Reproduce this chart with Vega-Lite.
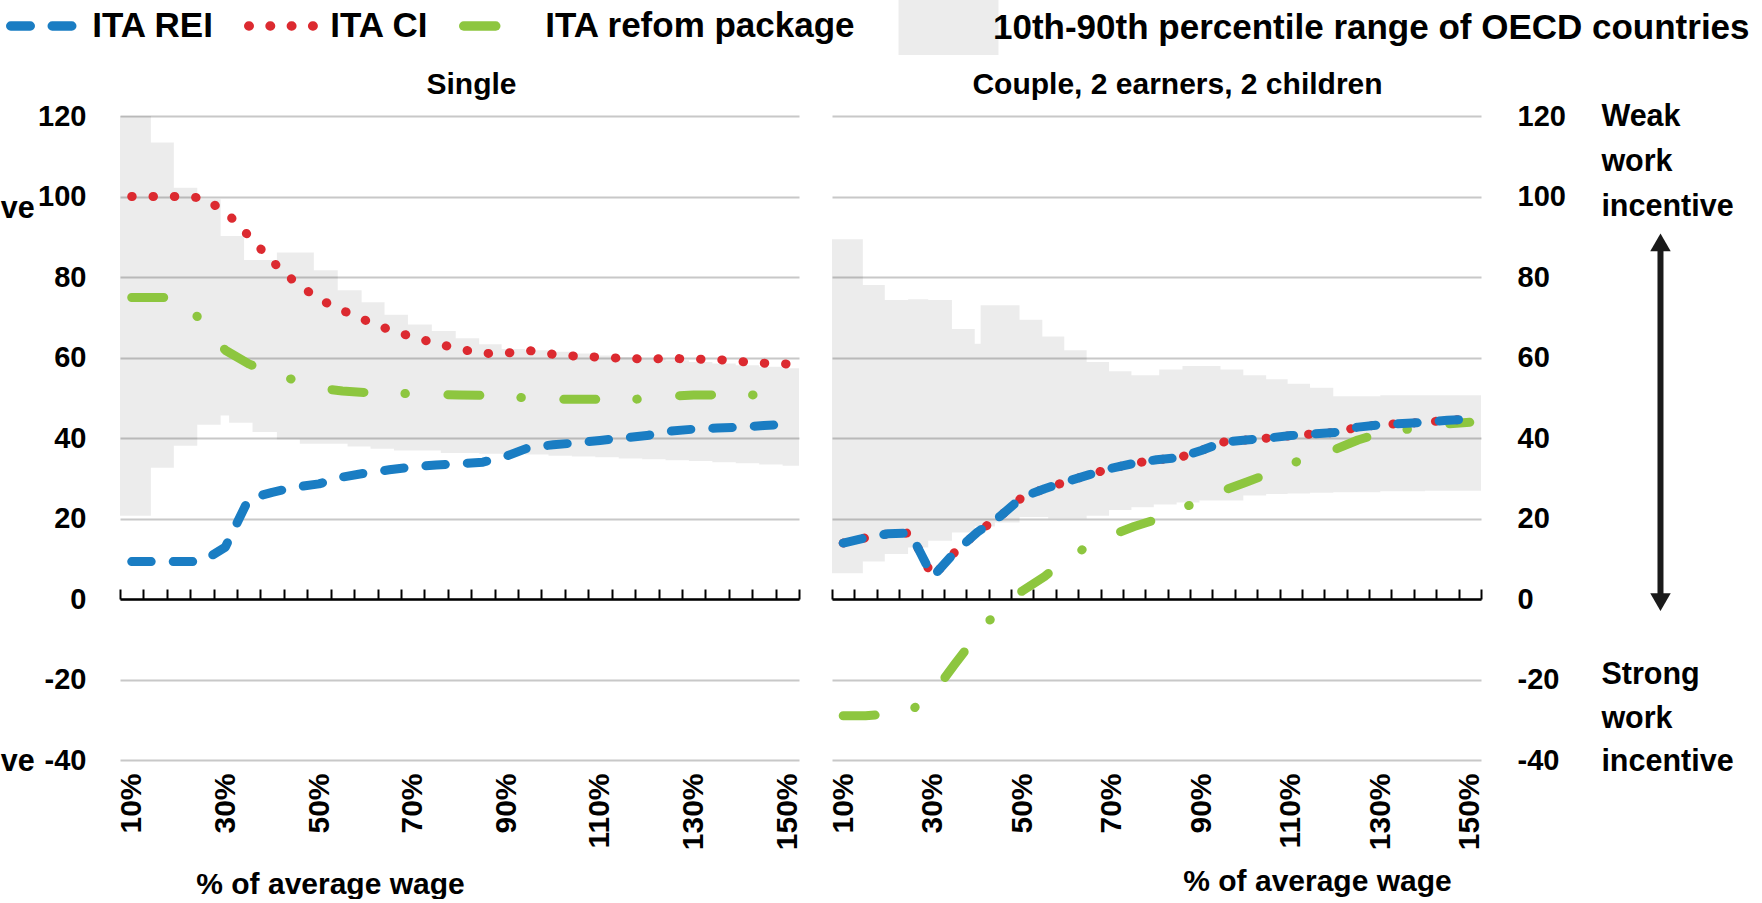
{
  "$schema": "https://vega.github.io/schema/vega-lite/v6.json",
  "background": "white",
  "padding": {"left": 0, "top": 0, "right": 0, "bottom": 0},
  "spacing": 25,
  "config": {
    "font": "Liberation Sans",
    "view": {"stroke": null},
    "axis": {"labelFontWeight": "bold", "titleFontWeight": "bold", "labelColor": "#000000", "titleColor": "#000000"},
    "legend": {"labelFontWeight": "bold", "labelColor": "#000000"},
    "title": {"fontWeight": "bold", "fontSize": 30, "color": "#000000", "baseline": "alphabetic", "offset": 2, "frame": "group"},
    "text": {"fontWeight": "bold"}
  },
  "datasets": {
    "lines": [
      {"panel": "Single", "series": "ITA refom package", "pct": 10, "value": 74.9},
      {"panel": "Single", "series": "ITA refom package", "pct": 15, "value": 74.9},
      {"panel": "Single", "series": "ITA refom package", "pct": 20, "value": 74.9},
      {"panel": "Single", "series": "ITA refom package", "pct": 25, "value": 69.0},
      {"panel": "Single", "series": "ITA refom package", "pct": 30, "value": 61.8},
      {"panel": "Single", "series": "ITA refom package", "pct": 35, "value": 58.4},
      {"panel": "Single", "series": "ITA refom package", "pct": 40, "value": 56.1},
      {"panel": "Single", "series": "ITA refom package", "pct": 45, "value": 54.3},
      {"panel": "Single", "series": "ITA refom package", "pct": 50, "value": 52.4},
      {"panel": "Single", "series": "ITA refom package", "pct": 55, "value": 51.7},
      {"panel": "Single", "series": "ITA refom package", "pct": 60, "value": 51.3},
      {"panel": "Single", "series": "ITA refom package", "pct": 65, "value": 51.1},
      {"panel": "Single", "series": "ITA refom package", "pct": 70, "value": 51.0},
      {"panel": "Single", "series": "ITA refom package", "pct": 75, "value": 50.8},
      {"panel": "Single", "series": "ITA refom package", "pct": 80, "value": 50.7},
      {"panel": "Single", "series": "ITA refom package", "pct": 85, "value": 50.6},
      {"panel": "Single", "series": "ITA refom package", "pct": 90, "value": 50.3},
      {"panel": "Single", "series": "ITA refom package", "pct": 95, "value": 49.9},
      {"panel": "Single", "series": "ITA refom package", "pct": 100, "value": 49.6},
      {"panel": "Single", "series": "ITA refom package", "pct": 105, "value": 49.6},
      {"panel": "Single", "series": "ITA refom package", "pct": 110, "value": 49.6},
      {"panel": "Single", "series": "ITA refom package", "pct": 115, "value": 49.6},
      {"panel": "Single", "series": "ITA refom package", "pct": 120, "value": 49.7},
      {"panel": "Single", "series": "ITA refom package", "pct": 125, "value": 50.4},
      {"panel": "Single", "series": "ITA refom package", "pct": 130, "value": 50.7},
      {"panel": "Single", "series": "ITA refom package", "pct": 135, "value": 50.7},
      {"panel": "Single", "series": "ITA refom package", "pct": 140, "value": 50.7},
      {"panel": "Single", "series": "ITA refom package", "pct": 145, "value": 50.7},
      {"panel": "Single", "series": "ITA refom package", "pct": 150, "value": 50.7},
      {"panel": "Couple", "series": "ITA refom package", "pct": 10, "value": -29.0},
      {"panel": "Couple", "series": "ITA refom package", "pct": 15, "value": -29.0},
      {"panel": "Couple", "series": "ITA refom package", "pct": 20, "value": -28.6},
      {"panel": "Couple", "series": "ITA refom package", "pct": 25, "value": -27.8},
      {"panel": "Couple", "series": "ITA refom package", "pct": 30, "value": -23.6},
      {"panel": "Couple", "series": "ITA refom package", "pct": 35, "value": -16.1},
      {"panel": "Couple", "series": "ITA refom package", "pct": 40, "value": -8.8},
      {"panel": "Couple", "series": "ITA refom package", "pct": 45, "value": -2.4},
      {"panel": "Couple", "series": "ITA refom package", "pct": 50, "value": 2.0},
      {"panel": "Couple", "series": "ITA refom package", "pct": 55, "value": 5.6},
      {"panel": "Couple", "series": "ITA refom package", "pct": 60, "value": 10.0},
      {"panel": "Couple", "series": "ITA refom package", "pct": 65, "value": 13.3},
      {"panel": "Couple", "series": "ITA refom package", "pct": 70, "value": 15.9},
      {"panel": "Couple", "series": "ITA refom package", "pct": 75, "value": 18.0},
      {"panel": "Couple", "series": "ITA refom package", "pct": 80, "value": 19.8},
      {"panel": "Couple", "series": "ITA refom package", "pct": 85, "value": 22.2},
      {"panel": "Couple", "series": "ITA refom package", "pct": 90, "value": 24.5},
      {"panel": "Couple", "series": "ITA refom package", "pct": 95, "value": 27.0},
      {"panel": "Couple", "series": "ITA refom package", "pct": 100, "value": 29.0},
      {"panel": "Couple", "series": "ITA refom package", "pct": 105, "value": 31.1},
      {"panel": "Couple", "series": "ITA refom package", "pct": 110, "value": 33.6},
      {"panel": "Couple", "series": "ITA refom package", "pct": 115, "value": 35.5},
      {"panel": "Couple", "series": "ITA refom package", "pct": 120, "value": 37.2},
      {"panel": "Couple", "series": "ITA refom package", "pct": 125, "value": 39.5},
      {"panel": "Couple", "series": "ITA refom package", "pct": 130, "value": 41.2},
      {"panel": "Couple", "series": "ITA refom package", "pct": 135, "value": 42.0},
      {"panel": "Couple", "series": "ITA refom package", "pct": 140, "value": 42.8},
      {"panel": "Couple", "series": "ITA refom package", "pct": 145, "value": 43.5},
      {"panel": "Couple", "series": "ITA refom package", "pct": 150, "value": 43.9},
      {"panel": "Single", "series": "ITA CI", "pct": 10, "value": 100},
      {"panel": "Single", "series": "ITA CI", "pct": 15, "value": 100},
      {"panel": "Single", "series": "ITA CI", "pct": 20, "value": 100},
      {"panel": "Single", "series": "ITA CI", "pct": 25, "value": 99.7},
      {"panel": "Single", "series": "ITA CI", "pct": 30, "value": 96.3},
      {"panel": "Single", "series": "ITA CI", "pct": 35, "value": 90.2},
      {"panel": "Single", "series": "ITA CI", "pct": 40, "value": 83.9},
      {"panel": "Single", "series": "ITA CI", "pct": 45, "value": 78.6},
      {"panel": "Single", "series": "ITA CI", "pct": 50, "value": 74.5},
      {"panel": "Single", "series": "ITA CI", "pct": 55, "value": 71.7},
      {"panel": "Single", "series": "ITA CI", "pct": 60, "value": 69.2},
      {"panel": "Single", "series": "ITA CI", "pct": 65, "value": 66.9},
      {"panel": "Single", "series": "ITA CI", "pct": 70, "value": 65.1},
      {"panel": "Single", "series": "ITA CI", "pct": 75, "value": 63.5},
      {"panel": "Single", "series": "ITA CI", "pct": 80, "value": 62.1},
      {"panel": "Single", "series": "ITA CI", "pct": 85, "value": 61.0},
      {"panel": "Single", "series": "ITA CI", "pct": 90, "value": 61.1},
      {"panel": "Single", "series": "ITA CI", "pct": 95, "value": 61.7},
      {"panel": "Single", "series": "ITA CI", "pct": 100, "value": 60.8},
      {"panel": "Single", "series": "ITA CI", "pct": 105, "value": 60.3},
      {"panel": "Single", "series": "ITA CI", "pct": 110, "value": 60.1},
      {"panel": "Single", "series": "ITA CI", "pct": 115, "value": 59.8},
      {"panel": "Single", "series": "ITA CI", "pct": 120, "value": 59.6},
      {"panel": "Single", "series": "ITA CI", "pct": 125, "value": 59.8},
      {"panel": "Single", "series": "ITA CI", "pct": 130, "value": 59.6},
      {"panel": "Single", "series": "ITA CI", "pct": 135, "value": 59.5},
      {"panel": "Single", "series": "ITA CI", "pct": 140, "value": 59.0},
      {"panel": "Single", "series": "ITA CI", "pct": 145, "value": 58.6},
      {"panel": "Single", "series": "ITA CI", "pct": 150, "value": 58.4},
      {"panel": "Couple", "series": "ITA CI", "pct": 10, "value": 13.9},
      {"panel": "Couple", "series": "ITA CI", "pct": 15, "value": 15.2},
      {"panel": "Couple", "series": "ITA CI", "pct": 20, "value": 16.2},
      {"panel": "Couple", "series": "ITA CI", "pct": 25, "value": 16.4},
      {"panel": "Couple", "series": "ITA CI", "pct": 30, "value": 5.5},
      {"panel": "Couple", "series": "ITA CI", "pct": 35, "value": 11.7},
      {"panel": "Couple", "series": "ITA CI", "pct": 40, "value": 16.6},
      {"panel": "Couple", "series": "ITA CI", "pct": 45, "value": 20.5},
      {"panel": "Couple", "series": "ITA CI", "pct": 50, "value": 25.3},
      {"panel": "Couple", "series": "ITA CI", "pct": 55, "value": 27.4},
      {"panel": "Couple", "series": "ITA CI", "pct": 60, "value": 29.2},
      {"panel": "Couple", "series": "ITA CI", "pct": 65, "value": 30.9},
      {"panel": "Couple", "series": "ITA CI", "pct": 70, "value": 32.5},
      {"panel": "Couple", "series": "ITA CI", "pct": 75, "value": 33.7},
      {"panel": "Couple", "series": "ITA CI", "pct": 80, "value": 34.6},
      {"panel": "Couple", "series": "ITA CI", "pct": 85, "value": 35.1},
      {"panel": "Couple", "series": "ITA CI", "pct": 90, "value": 36.9},
      {"panel": "Couple", "series": "ITA CI", "pct": 95, "value": 39.0},
      {"panel": "Couple", "series": "ITA CI", "pct": 100, "value": 39.5},
      {"panel": "Couple", "series": "ITA CI", "pct": 105, "value": 40.0},
      {"panel": "Couple", "series": "ITA CI", "pct": 110, "value": 40.6},
      {"panel": "Couple", "series": "ITA CI", "pct": 115, "value": 41.0},
      {"panel": "Couple", "series": "ITA CI", "pct": 120, "value": 41.4},
      {"panel": "Couple", "series": "ITA CI", "pct": 125, "value": 42.7},
      {"panel": "Couple", "series": "ITA CI", "pct": 130, "value": 43.3},
      {"panel": "Couple", "series": "ITA CI", "pct": 135, "value": 43.6},
      {"panel": "Couple", "series": "ITA CI", "pct": 140, "value": 43.9},
      {"panel": "Couple", "series": "ITA CI", "pct": 145, "value": 44.4},
      {"panel": "Couple", "series": "ITA CI", "pct": 150, "value": 44.7},
      {"panel": "Single", "series": "ITA REI", "pct": 10, "value": 9.3},
      {"panel": "Single", "series": "ITA REI", "pct": 15, "value": 9.3},
      {"panel": "Single", "series": "ITA REI", "pct": 20, "value": 9.3},
      {"panel": "Single", "series": "ITA REI", "pct": 25, "value": 9.3},
      {"panel": "Single", "series": "ITA REI", "pct": 30, "value": 12.9},
      {"panel": "Single", "series": "ITA REI", "pct": 35, "value": 24.9},
      {"panel": "Single", "series": "ITA REI", "pct": 40, "value": 26.5},
      {"panel": "Single", "series": "ITA REI", "pct": 45, "value": 27.8},
      {"panel": "Single", "series": "ITA REI", "pct": 50, "value": 28.6},
      {"panel": "Single", "series": "ITA REI", "pct": 55, "value": 30.3},
      {"panel": "Single", "series": "ITA REI", "pct": 60, "value": 31.3},
      {"panel": "Single", "series": "ITA REI", "pct": 65, "value": 32.1},
      {"panel": "Single", "series": "ITA REI", "pct": 70, "value": 32.8},
      {"panel": "Single", "series": "ITA REI", "pct": 75, "value": 33.3},
      {"panel": "Single", "series": "ITA REI", "pct": 80, "value": 33.6},
      {"panel": "Single", "series": "ITA REI", "pct": 85, "value": 34.0},
      {"panel": "Single", "series": "ITA REI", "pct": 90, "value": 35.5},
      {"panel": "Single", "series": "ITA REI", "pct": 95, "value": 37.7},
      {"panel": "Single", "series": "ITA REI", "pct": 100, "value": 38.3},
      {"panel": "Single", "series": "ITA REI", "pct": 105, "value": 38.8},
      {"panel": "Single", "series": "ITA REI", "pct": 110, "value": 39.4},
      {"panel": "Single", "series": "ITA REI", "pct": 115, "value": 40.0},
      {"panel": "Single", "series": "ITA REI", "pct": 120, "value": 40.6},
      {"panel": "Single", "series": "ITA REI", "pct": 125, "value": 41.7},
      {"panel": "Single", "series": "ITA REI", "pct": 130, "value": 42.2},
      {"panel": "Single", "series": "ITA REI", "pct": 135, "value": 42.5},
      {"panel": "Single", "series": "ITA REI", "pct": 140, "value": 42.7},
      {"panel": "Single", "series": "ITA REI", "pct": 145, "value": 43.1},
      {"panel": "Single", "series": "ITA REI", "pct": 150, "value": 43.4},
      {"panel": "Couple", "series": "ITA REI", "pct": 10, "value": 13.9},
      {"panel": "Couple", "series": "ITA REI", "pct": 15, "value": 15.2},
      {"panel": "Couple", "series": "ITA REI", "pct": 20, "value": 16.2},
      {"panel": "Couple", "series": "ITA REI", "pct": 25, "value": 16.4},
      {"panel": "Couple", "series": "ITA REI", "pct": 30, "value": 5.5},
      {"panel": "Couple", "series": "ITA REI", "pct": 35, "value": 11.7},
      {"panel": "Couple", "series": "ITA REI", "pct": 40, "value": 16.6},
      {"panel": "Couple", "series": "ITA REI", "pct": 45, "value": 20.5},
      {"panel": "Couple", "series": "ITA REI", "pct": 50, "value": 25.3},
      {"panel": "Couple", "series": "ITA REI", "pct": 55, "value": 27.4},
      {"panel": "Couple", "series": "ITA REI", "pct": 60, "value": 29.2},
      {"panel": "Couple", "series": "ITA REI", "pct": 65, "value": 30.9},
      {"panel": "Couple", "series": "ITA REI", "pct": 70, "value": 32.5},
      {"panel": "Couple", "series": "ITA REI", "pct": 75, "value": 33.7},
      {"panel": "Couple", "series": "ITA REI", "pct": 80, "value": 34.6},
      {"panel": "Couple", "series": "ITA REI", "pct": 85, "value": 35.1},
      {"panel": "Couple", "series": "ITA REI", "pct": 90, "value": 36.9},
      {"panel": "Couple", "series": "ITA REI", "pct": 95, "value": 39.0},
      {"panel": "Couple", "series": "ITA REI", "pct": 100, "value": 39.5},
      {"panel": "Couple", "series": "ITA REI", "pct": 105, "value": 40.0},
      {"panel": "Couple", "series": "ITA REI", "pct": 110, "value": 40.6},
      {"panel": "Couple", "series": "ITA REI", "pct": 115, "value": 41.0},
      {"panel": "Couple", "series": "ITA REI", "pct": 120, "value": 41.4},
      {"panel": "Couple", "series": "ITA REI", "pct": 125, "value": 42.7},
      {"panel": "Couple", "series": "ITA REI", "pct": 130, "value": 43.3},
      {"panel": "Couple", "series": "ITA REI", "pct": 135, "value": 43.6},
      {"panel": "Couple", "series": "ITA REI", "pct": 140, "value": 43.9},
      {"panel": "Couple", "series": "ITA REI", "pct": 145, "value": 44.4},
      {"panel": "Couple", "series": "ITA REI", "pct": 150, "value": 44.7}
    ],
    "band": [
      {"panel": "Single", "pct": 7.5, "lo": 20.7, "hi": 120},
      {"panel": "Single", "pct": 14.1, "lo": 32.6, "hi": 113.4},
      {"panel": "Single", "pct": 19.0, "lo": 38.1, "hi": 102.2},
      {"panel": "Single", "pct": 24.0, "lo": 43.3, "hi": 99.3},
      {"panel": "Single", "pct": 29.0, "lo": 45.6, "hi": 90.2},
      {"panel": "Single", "pct": 30.8, "lo": 43.8, "hi": 90.2},
      {"panel": "Single", "pct": 34.0, "lo": 43.8, "hi": 84.2},
      {"panel": "Single", "pct": 35.8, "lo": 41.5, "hi": 84.2},
      {"panel": "Single", "pct": 41.0, "lo": 39.6, "hi": 86.1},
      {"panel": "Single", "pct": 45.9, "lo": 38.6, "hi": 86.1},
      {"panel": "Single", "pct": 48.9, "lo": 38.6, "hi": 81.7},
      {"panel": "Single", "pct": 54.0, "lo": 38.6, "hi": 76.7},
      {"panel": "Single", "pct": 56.1, "lo": 37.9, "hi": 76.7},
      {"panel": "Single", "pct": 59.1, "lo": 37.9, "hi": 73.7},
      {"panel": "Single", "pct": 61.0, "lo": 37.3, "hi": 73.7},
      {"panel": "Single", "pct": 64.0, "lo": 37.3, "hi": 70.6},
      {"panel": "Single", "pct": 66.0, "lo": 36.9, "hi": 70.6},
      {"panel": "Single", "pct": 69.0, "lo": 36.9, "hi": 68.2},
      {"panel": "Single", "pct": 74.1, "lo": 36.9, "hi": 66.6},
      {"panel": "Single", "pct": 76.0, "lo": 36.3, "hi": 66.6},
      {"panel": "Single", "pct": 79.2, "lo": 36.3, "hi": 64.8},
      {"panel": "Single", "pct": 84.2, "lo": 36.1, "hi": 63.3},
      {"panel": "Single", "pct": 89, "lo": 36.0, "hi": 62.1},
      {"panel": "Single", "pct": 94, "lo": 35.9, "hi": 61.8},
      {"panel": "Single", "pct": 99, "lo": 35.6, "hi": 61.4},
      {"panel": "Single", "pct": 104, "lo": 35.4, "hi": 61.0},
      {"panel": "Single", "pct": 109, "lo": 35.2, "hi": 60.5},
      {"panel": "Single", "pct": 114, "lo": 34.9, "hi": 60.1},
      {"panel": "Single", "pct": 119, "lo": 34.7, "hi": 59.7},
      {"panel": "Single", "pct": 124, "lo": 34.5, "hi": 59.3},
      {"panel": "Single", "pct": 129, "lo": 34.3, "hi": 58.9},
      {"panel": "Single", "pct": 134, "lo": 34.0, "hi": 58.5},
      {"panel": "Single", "pct": 139, "lo": 33.7, "hi": 58.1},
      {"panel": "Single", "pct": 144, "lo": 33.4, "hi": 57.7},
      {"panel": "Single", "pct": 149, "lo": 33.1, "hi": 57.3},
      {"panel": "Single", "pct": 152.5, "lo": 32.9, "hi": 57.2},
      {"panel": "Couple", "pct": 7.5, "lo": 6.4, "hi": 89.4},
      {"panel": "Couple", "pct": 14.4, "lo": 9.3, "hi": 78.0},
      {"panel": "Couple", "pct": 19.3, "lo": 11.2, "hi": 74.3},
      {"panel": "Couple", "pct": 24.5, "lo": 12.8, "hi": 74.5},
      {"panel": "Couple", "pct": 29.0, "lo": 14.5, "hi": 74.3},
      {"panel": "Couple", "pct": 34.3, "lo": 16.5, "hi": 67.1},
      {"panel": "Couple", "pct": 39.4, "lo": 18.0, "hi": 63.4},
      {"panel": "Couple", "pct": 40.7, "lo": 18.0, "hi": 73.0},
      {"panel": "Couple", "pct": 43.9, "lo": 19.0, "hi": 73.0},
      {"panel": "Couple", "pct": 49.4, "lo": 20.4, "hi": 69.4},
      {"panel": "Couple", "pct": 54.5, "lo": 20.4, "hi": 65.2},
      {"panel": "Couple", "pct": 55.8, "lo": 20.0, "hi": 65.2},
      {"panel": "Couple", "pct": 59.4, "lo": 20.0, "hi": 61.8},
      {"panel": "Couple", "pct": 64.4, "lo": 20.7, "hi": 58.9},
      {"panel": "Couple", "pct": 69.4, "lo": 22.1, "hi": 56.6},
      {"panel": "Couple", "pct": 74.4, "lo": 22.8, "hi": 55.6},
      {"panel": "Couple", "pct": 79.4, "lo": 23.5, "hi": 55.6},
      {"panel": "Couple", "pct": 80.6, "lo": 23.5, "hi": 57.0},
      {"panel": "Couple", "pct": 84.5, "lo": 24.0, "hi": 57.0},
      {"panel": "Couple", "pct": 85.8, "lo": 24.0, "hi": 57.9},
      {"panel": "Couple", "pct": 89.6, "lo": 24.5, "hi": 57.9},
      {"panel": "Couple", "pct": 94.3, "lo": 24.5, "hi": 57.0},
      {"panel": "Couple", "pct": 99.4, "lo": 25.7, "hi": 55.6},
      {"panel": "Couple", "pct": 104.5, "lo": 26.1, "hi": 54.6},
      {"panel": "Couple", "pct": 109.3, "lo": 26.2, "hi": 53.5},
      {"panel": "Couple", "pct": 114.3, "lo": 26.4, "hi": 52.5},
      {"panel": "Couple", "pct": 119.5, "lo": 26.5, "hi": 50.4},
      {"panel": "Couple", "pct": 130, "lo": 26.8, "hi": 50.6},
      {"panel": "Couple", "pct": 140, "lo": 26.9, "hi": 50.6},
      {"panel": "Couple", "pct": 152.5, "lo": 27.0, "hi": 50.6}
    ]
  },
  "hconcat": [
    {
      "width": 679,
      "height": 644,
      "title": {"text": "Single", "dx": 12},
      "resolve": {"axis": {"x": "independent", "y": "independent"}},
      "layer": [
        {
          "data": {"name": "band"},
          "transform": [{"filter": "datum.panel === 'Single'"}],
          "mark": {"type": "area", "interpolate": "step-after", "fillOpacity": 0.075},
          "encoding": {
            "x": {"field": "pct", "type": "quantitative",
              "scale": {"domain": [7.5, 152.5], "nice": false, "zero": false},
              "axis": {"orient": "bottom", "values": [10, 30, 50, 70, 90, 110, 130, 150], "labelExpr": "datum.value + '%'",
                "labelAngle": 270, "labelAlign": "right", "labelBaseline": "middle", "labelPadding": 13, "labelFontSize": 30,
                "labelFlush": false, "labelOverlap": false, "domain": false, "ticks": false, "grid": false,
                "title": "% of average wage", "titleFontSize": 30, "titleX": 210, "titleY": 133, "titleBaseline": "alphabetic", "titleAlign": "center"}},
            "y": {"field": "lo", "type": "quantitative",
              "scale": {"domain": [-40, 120], "nice": false, "zero": false},
              "axis": {"orient": "left", "values": [-40, -20, 0, 20, 40, 60, 80, 100, 120], "labelExpr": "replace(datum.label, '\u2212', '-')",
                "grid": true, "gridColor": "#c8c8c8", "gridWidth": 2,
                "domain": false, "ticks": false, "labelFontSize": 29, "labelPadding": 34, "title": null}},
            "y2": {"field": "hi"},
            "fill": {"datum": "10th-90th percentile range of OECD countries", "type": "nominal",
              "scale": {"range": ["#000000"]},
              "legend": {"title": null, "orient": "none", "legendX": 801, "legendY": -116, "padding": 0,
                "symbolType": "M-1.818,-1H1.818V1H-1.818Z", "symbolSize": 3025, "symbolStrokeWidth": 0, "symbolOpacity": 0.075,
                "labelFontSize": 35, "labelOffset": 17, "labelLimit": 1200}}
          }
        },
        {
          "data": {"name": "lines"},
          "transform": [{"filter": "datum.panel === 'Single' && datum.series === 'ITA refom package'"}],
          "mark": {"type": "line", "strokeWidth": 9, "strokeCap": "round", "strokeJoin": "round"},
          "encoding": {
            "x": {"field": "pct", "type": "quantitative", "axis": null},
            "y": {"field": "value", "type": "quantitative", "axis": null},
            "color": {"field": "series", "type": "nominal",
              "scale": {"domain": ["ITA REI", "ITA CI", "ITA refom package"], "range": ["#1a7dc3", "#dc2a30", "#8dc63f"]},
              "legend": {"title": null, "orient": "none", "legendX": -102.7, "legendY": -116, "padding": 0, "direction": "horizontal",
                "symbolType": "M-1.55,0H1.55", "symbolSize": 1764, "symbolStrokeWidth": 9.5,
                "labelFontSize": 35, "labelOffset": 23, "columnPadding": 15, "labelLimit": 600,
                "encoding": {"symbols": {"strokeCap": {"value": "round"}}}}},
            "strokeDash": {"field": "series", "type": "nominal",
              "scale": {"domain": ["ITA REI", "ITA CI", "ITA refom package"], "range": [[19.5, 22], [0.5, 20.8], [32, 41, 0.5, 42.5]]},
              "legend": {"title": null, "orient": "none", "legendX": -102.7, "legendY": -116, "padding": 0, "direction": "horizontal",
                "symbolType": "M-1.55,0H1.55", "symbolSize": 1764, "symbolStrokeWidth": 9.5,
                "labelFontSize": 35, "labelOffset": 23, "columnPadding": 15, "labelLimit": 600,
                "encoding": {"symbols": {"strokeCap": {"value": "round"}}}}}
          }
        },
        {
          "data": {"name": "lines"},
          "transform": [{"filter": "datum.panel === 'Single' && datum.series === 'ITA CI'"}],
          "mark": {"type": "line", "strokeWidth": 9, "strokeCap": "round", "strokeJoin": "round"},
          "encoding": {
            "x": {"field": "pct", "type": "quantitative", "axis": null},
            "y": {"field": "value", "type": "quantitative", "axis": null},
            "color": {"field": "series", "type": "nominal"},
            "strokeDash": {"field": "series", "type": "nominal"}
          }
        },
        {
          "data": {"name": "lines"},
          "transform": [{"filter": "datum.panel === 'Single' && datum.series === 'ITA REI'"}],
          "mark": {"type": "line", "strokeWidth": 9, "strokeCap": "round", "strokeJoin": "round"},
          "encoding": {
            "x": {"field": "pct", "type": "quantitative",
              "axis": {"orient": "top", "offset": -483, "values": [7.5, 12.5, 17.5, 22.5, 27.5, 32.5, 37.5, 42.5, 47.5, 52.5, 57.5, 62.5, 67.5, 72.5, 77.5, 82.5, 87.5, 92.5, 97.5, 102.5, 107.5, 112.5, 117.5, 122.5, 127.5, 132.5, 137.5, 142.5, 147.5, 152.5],
                "labels": false, "title": null, "grid": false, "domain": true, "domainColor": "#000000", "domainWidth": 2.5,
                "ticks": true, "tickColor": "#000000", "tickWidth": 2, "tickSize": 10}},
            "y": {"field": "value", "type": "quantitative", "axis": null},
            "color": {"field": "series", "type": "nominal"},
            "strokeDash": {"field": "series", "type": "nominal"}
          }
        },
        {
          "data": {"values": [{}]},
          "mark": {"type": "text", "align": "right", "baseline": "middle", "fontSize": 30.5, "color": "#000000"},
          "encoding": {
            "x": {"datum": -10.7, "type": "quantitative", "axis": null},
            "y": {"datum": 97, "type": "quantitative", "axis": null},
            "text": {"value": "ve"}
          }
        },
        {
          "data": {"values": [{}]},
          "mark": {"type": "text", "align": "right", "baseline": "middle", "fontSize": 30.5, "color": "#000000"},
          "encoding": {
            "x": {"datum": -10.7, "type": "quantitative", "axis": null},
            "y": {"datum": -40.5, "type": "quantitative", "axis": null},
            "text": {"value": "ve"}
          }
        }
      ]
    },
    {
      "width": 649,
      "height": 644,
      "title": {"text": "Couple, 2 earners, 2 children", "dx": 21},
      "resolve": {"axis": {"x": "independent", "y": "independent"}},
      "layer": [
        {
          "data": {"name": "band"},
          "transform": [{"filter": "datum.panel === 'Couple'"}],
          "mark": {"type": "area", "interpolate": "step-after", "fillOpacity": 0.075},
          "encoding": {
            "x": {"field": "pct", "type": "quantitative",
              "scale": {"domain": [7.5, 152.5], "nice": false, "zero": false},
              "axis": {"orient": "bottom", "values": [10, 30, 50, 70, 90, 110, 130, 150], "labelExpr": "datum.value + '%'",
                "labelAngle": 270, "labelAlign": "right", "labelBaseline": "middle", "labelPadding": 13, "labelFontSize": 30,
                "labelFlush": false, "labelOverlap": false, "domain": false, "ticks": false, "grid": false,
                "title": "% of average wage", "titleFontSize": 30, "titleX": 485, "titleY": 130, "titleBaseline": "alphabetic", "titleAlign": "center"}},
            "y": {"field": "lo", "type": "quantitative",
              "scale": {"domain": [-40, 120], "nice": false, "zero": false},
              "axis": {"orient": "right", "values": [-40, -20, 0, 20, 40, 60, 80, 100, 120], "labelExpr": "replace(datum.label, '\u2212', '-')",
                "grid": true, "gridColor": "#c8c8c8", "gridWidth": 2,
                "domain": false, "ticks": false, "labelFontSize": 29, "labelPadding": 36, "title": null}},
            "y2": {"field": "hi"},
            "fill": {"datum": "10th-90th percentile range of OECD countries", "type": "nominal"}
          }
        },
        {
          "data": {"name": "lines"},
          "transform": [{"filter": "datum.panel === 'Couple' && datum.series === 'ITA refom package'"}],
          "mark": {"type": "line", "strokeWidth": 9, "strokeCap": "round", "strokeJoin": "round"},
          "encoding": {
            "x": {"field": "pct", "type": "quantitative", "axis": null},
            "y": {"field": "value", "type": "quantitative", "axis": null},
            "color": {"field": "series", "type": "nominal"},
            "strokeDash": {"field": "series", "type": "nominal"}
          }
        },
        {
          "data": {"name": "lines"},
          "transform": [{"filter": "datum.panel === 'Couple' && datum.series === 'ITA CI'"}],
          "mark": {"type": "line", "strokeWidth": 9, "strokeCap": "round", "strokeJoin": "round"},
          "encoding": {
            "x": {"field": "pct", "type": "quantitative", "axis": null},
            "y": {"field": "value", "type": "quantitative", "axis": null},
            "color": {"field": "series", "type": "nominal"},
            "strokeDash": {"field": "series", "type": "nominal"}
          }
        },
        {
          "data": {"name": "lines"},
          "transform": [{"filter": "datum.panel === 'Couple' && datum.series === 'ITA REI'"}],
          "mark": {"type": "line", "strokeWidth": 9, "strokeCap": "round", "strokeJoin": "round"},
          "encoding": {
            "x": {"field": "pct", "type": "quantitative",
              "axis": {"orient": "top", "offset": -483, "values": [7.5, 12.5, 17.5, 22.5, 27.5, 32.5, 37.5, 42.5, 47.5, 52.5, 57.5, 62.5, 67.5, 72.5, 77.5, 82.5, 87.5, 92.5, 97.5, 102.5, 107.5, 112.5, 117.5, 122.5, 127.5, 132.5, 137.5, 142.5, 147.5, 152.5],
                "labels": false, "title": null, "grid": false, "domain": true, "domainColor": "#000000", "domainWidth": 2.5,
                "ticks": true, "tickColor": "#000000", "tickWidth": 2, "tickSize": 10}},
            "y": {"field": "value", "type": "quantitative", "axis": null},
            "color": {"field": "series", "type": "nominal"},
            "strokeDash": {"field": "series", "type": "nominal"}
          }
        },
        {
          "data": {"values": [{}]},
          "mark": {"type": "text", "align": "left", "baseline": "middle", "fontSize": 30.5, "lineHeight": 45, "color": "#000000"},
          "encoding": {
            "x": {"datum": 179.4, "type": "quantitative", "axis": null},
            "y": {"datum": 119.7, "type": "quantitative", "axis": null},
            "text": {"value": ["Weak", "work", "incentive"]}
          }
        },
        {
          "data": {"values": [{}]},
          "mark": {"type": "text", "align": "left", "baseline": "middle", "fontSize": 30.5, "lineHeight": 43.5, "color": "#000000"},
          "encoding": {
            "x": {"datum": 179.4, "type": "quantitative", "axis": null},
            "y": {"datum": -18.9, "type": "quantitative", "axis": null},
            "text": {"value": ["Strong", "work", "incentive"]}
          }
        },
        {
          "data": {"values": [{}]},
          "mark": {"type": "rule", "strokeWidth": 6, "color": "#1a1a1a"},
          "encoding": {
            "x": {"datum": 192.6, "type": "quantitative", "axis": null},
            "y": {"datum": 87, "type": "quantitative", "axis": null},
            "y2": {"datum": 1}
          }
        },
        {
          "data": {"values": [{}]},
          "mark": {"type": "point", "shape": "triangle-up", "size": 420, "filled": true, "color": "#1a1a1a", "opacity": 1},
          "encoding": {
            "x": {"datum": 192.6, "type": "quantitative", "axis": null},
            "y": {"datum": 88.6, "type": "quantitative", "axis": null}
          }
        },
        {
          "data": {"values": [{}]},
          "mark": {"type": "point", "shape": "triangle-down", "size": 420, "filled": true, "color": "#1a1a1a", "opacity": 1},
          "encoding": {
            "x": {"datum": 192.6, "type": "quantitative", "axis": null},
            "y": {"datum": -0.75, "type": "quantitative", "axis": null}
          }
        }
      ]
    }
  ]
}
